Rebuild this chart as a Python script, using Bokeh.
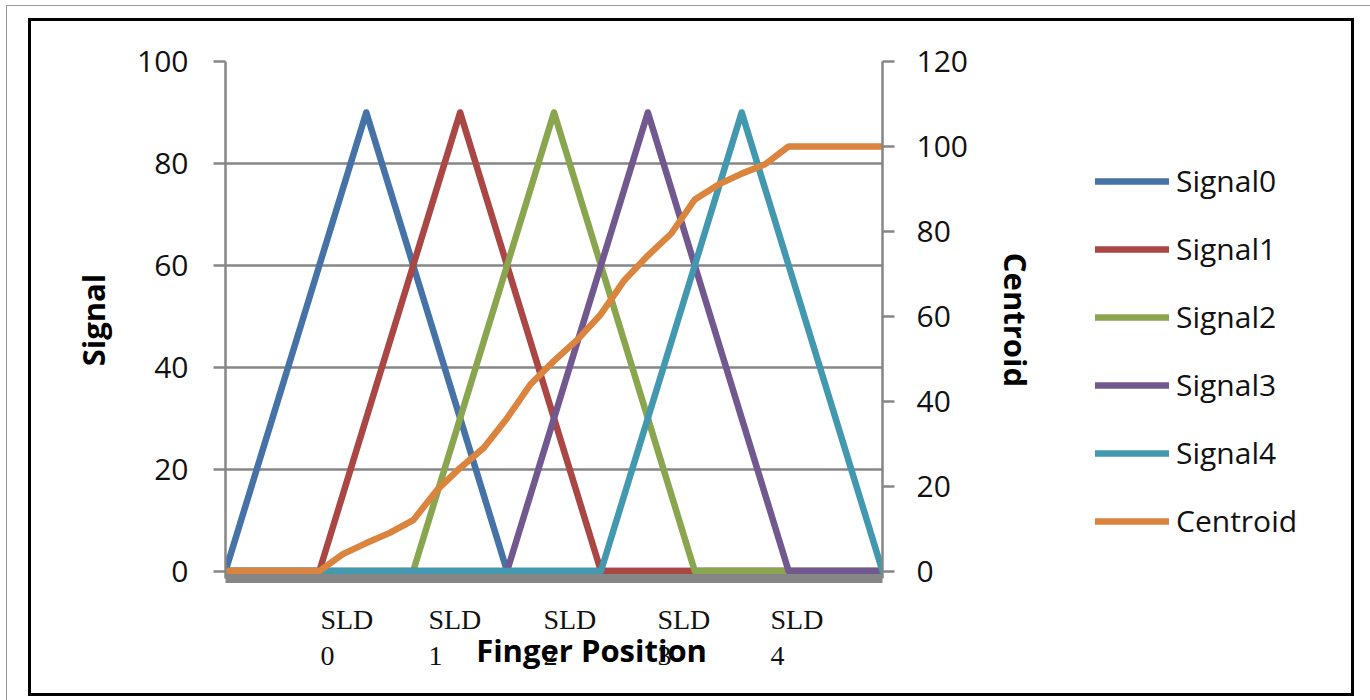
from bokeh.plotting import figure
from bokeh.layouts import row, column
from bokeh.models import (Range1d, LinearAxis, FixedTicker, Legend, LegendItem)
from bokeh.embed import file_html
from bokeh.resources import INLINE

# ---------------- data ----------------
positions = [0.0, 0.5, 1.0, 1.5, 2.0, 2.5, 3.0, 3.5, 4.0, 4.5, 5.0, 5.5, 6.0, 6.5, 7.0]
signal0 = [0, 30, 60, 90, 60, 30, 0, 0, 0, 0, 0, 0, 0, 0, 0]
signal1 = [0, 0, 0, 30, 60, 90, 60, 30, 0, 0, 0, 0, 0, 0, 0]
signal2 = [0, 0, 0, 0, 0, 30, 60, 90, 60, 30, 0, 0, 0, 0, 0]
signal3 = [0, 0, 0, 0, 0, 0, 0, 30, 60, 90, 60, 30, 0, 0, 0]
signal4 = [0, 0, 0, 0, 0, 0, 0, 0, 0, 30, 60, 90, 60, 30, 0]

centroid_positions = [0.0, 0.25, 0.5, 0.75, 1.0, 1.25, 1.5, 1.75, 2.0, 2.25, 2.5, 2.75,
                      3.0, 3.25, 3.5, 3.75, 4.0, 4.25, 4.5, 4.75, 5.0, 5.25, 5.5, 5.75,
                      6.0, 6.25, 6.5, 6.75, 7.0]
centroid = [0, 0, 0, 0, 0, 4.0, 6.6, 9.0, 12.0, 19.0, 24.3, 29.0,
            36.0, 44.0, 49.5, 54.5, 60.5, 68.5, 74.3, 79.5, 87.5, 91.0, 93.6, 95.8,
            100, 100, 100, 100, 100]

series_names = ["Signal0", "Signal1", "Signal2", "Signal3", "Signal4", "Centroid"]
series_colors = ["#4572A7", "#AA4643", "#89A54E", "#71588F", "#4198AF", "#DB843D"]

# overlaid slider labels ("SLD" word and its index on a second line)
sld_words = ["SLD", "SLD", "SLD", "SLD", "SLD"]
sld_numbers = ["0", "1", "2", "3", "4"]
sld_word_x = [1.293, 2.444, 3.669, 4.884, 6.088]
sld_number_x = [1.087, 2.237, 3.463, 4.677, 5.881]
x_title = "Finger Position"
x_title_x = 3.90

left_ticks = [0, 20, 40, 60, 80, 100]
right_ticks = [0, 20, 40, 60, 80, 100, 120]

# ---------------- figure ----------------
SANS = "Open Sans"
SERIF = "Liberation Serif"
GRAY = "#868686"
MAIN_W, LEG_W, H = 1053, 267, 672

p = figure(width=MAIN_W, height=H, output_backend="svg", toolbar_location=None,
           x_range=Range1d(0, 7), y_range=Range1d(-1.45, 100),
           min_border_left=194, min_border_right=MAIN_W - 194 - 657,
           min_border_top=40, min_border_bottom=115)
p.extra_y_ranges = {"right": Range1d(-1.74, 120)}
p.outline_line_color = None
p.background_fill_color = "white"
p.border_fill_color = "white"

p.xgrid.visible = False
p.ygrid.ticker = FixedTicker(ticks=left_ticks)
p.ygrid.grid_line_color = GRAY
p.ygrid.grid_line_width = 2.5

def plain_x(ax):
    ax.major_tick_out = 0
    ax.major_tick_in = 0
    ax.minor_tick_out = 0
    ax.minor_tick_in = 0
    ax.major_tick_line_color = None
    ax.minor_tick_line_color = None

# x axis 1: thick gray floor line + "SLD" words
xa = p.xaxis[0]
plain_x(xa)
xa.axis_line_color = GRAY
xa.axis_line_width = 9
xa.ticker = FixedTicker(ticks=sld_word_x)
xa.major_label_overrides = {x: w for x, w in zip(sld_word_x, sld_words)}
xa.major_label_text_font = SERIF
xa.major_label_text_font_size = "28px"
xa.major_label_text_color = "#111111"
xa.major_label_standoff = 25

# x axis 2: slider indices
xb = LinearAxis(ticker=FixedTicker(ticks=sld_number_x))
plain_x(xb)
xb.axis_line_color = None
xb.major_label_overrides = {x: n for x, n in zip(sld_number_x, sld_numbers)}
xb.major_label_text_font = SERIF
xb.major_label_text_font_size = "28px"
xb.major_label_text_color = "#111111"
xb.major_label_standoff = 9
p.add_layout(xb, "below")

# x axis 3: the axis title, overlapping the labels as in the original
xc = LinearAxis(ticker=FixedTicker(ticks=[x_title_x]))
plain_x(xc)
xc.axis_line_color = None
xc.major_label_overrides = {x_title_x: x_title}
xc.major_label_text_font = SANS
xc.major_label_text_font_style = "bold"
xc.major_label_text_font_size = "31px"
xc.major_label_text_color = "black"
xc.major_label_standoff = -39
p.add_layout(xc, "below")

def style_y(ax, label, ticks, standoff):
    ax.ticker = FixedTicker(ticks=ticks)
    ax.axis_line_color = GRAY
    ax.axis_line_width = 2.5
    ax.major_tick_line_color = GRAY
    ax.major_tick_line_width = 2.5
    ax.major_tick_out = 12
    ax.major_tick_in = 0
    ax.minor_tick_line_color = None
    ax.major_label_text_font = SANS
    ax.major_label_text_font_size = "30px"
    ax.major_label_text_color = "#111111"
    ax.major_label_standoff = standoff
    ax.axis_label = label
    ax.axis_label_text_font = SANS
    ax.axis_label_text_font_style = "bold"
    ax.axis_label_text_font_size = "31px"
    ax.axis_label_text_color = "black"
    ax.axis_label_standoff = 20

style_y(p.yaxis[0], "Signal", left_ticks, 25)
ry = LinearAxis(y_range_name="right")
style_y(ry, "Centroid", right_ticks, 22)
ry.axis_label_standoff = 24
p.add_layout(ry, "right")

# ---------------- lines ----------------
line_style = dict(line_width=6.5, line_cap="round", line_join="round")
all_series = [signal0, signal1, signal2, signal3, signal4]
for vals, col in zip(all_series, series_colors[:5]):
    p.line(positions, vals, line_color=col, **line_style)
p.line(centroid_positions, centroid, y_range_name="right",
       line_color=series_colors[5], **line_style)

# ---------------- legend (own panel to the right) ----------------
# the same series are drawn here, but the ranges keep them out of view:
# only their legend samples show
pl = figure(width=LEG_W, height=H, output_backend="svg", toolbar_location=None,
            x_range=Range1d(-30, -29), y_range=Range1d(-30, -29),
            x_axis_location=None, y_axis_location=None,
            min_border_left=0, min_border_right=0, min_border_top=0, min_border_bottom=0)
pl.grid.visible = False
pl.outline_line_color = None
pl.background_fill_color = "white"
pl.border_fill_color = "white"
items = []
legend_series = [(positions, s) for s in all_series] + [(centroid_positions, centroid)]
for name, col, (xs, ys) in zip(series_names, series_colors, legend_series):
    r = pl.line(xs, ys, line_color=col, **line_style)
    items.append(LegendItem(label=name, renderers=[r]))
legend = Legend(items=items, location=(11, 37), orientation="vertical",
                glyph_width=74, glyph_height=30, label_height=30, spacing=27,
                padding=0, margin=0, label_standoff=7,
                border_line_alpha=0, background_fill_alpha=0,
                label_text_font=SANS, label_text_font_size="30px",
                label_text_color="#111111")
pl.add_layout(legend)

chart = row(p, pl, spacing=0, styles={"border": "3px solid black"})
page = column(chart, styles={"border": "1px solid #9a9a9a",
                             "margin-left": "6px", "margin-top": "5px",
                             "padding-left": "21px", "padding-top": "12px",
                             "padding-right": "18px", "padding-bottom": "20px"})

open("out.html", "w").write(file_html(page, INLINE))
